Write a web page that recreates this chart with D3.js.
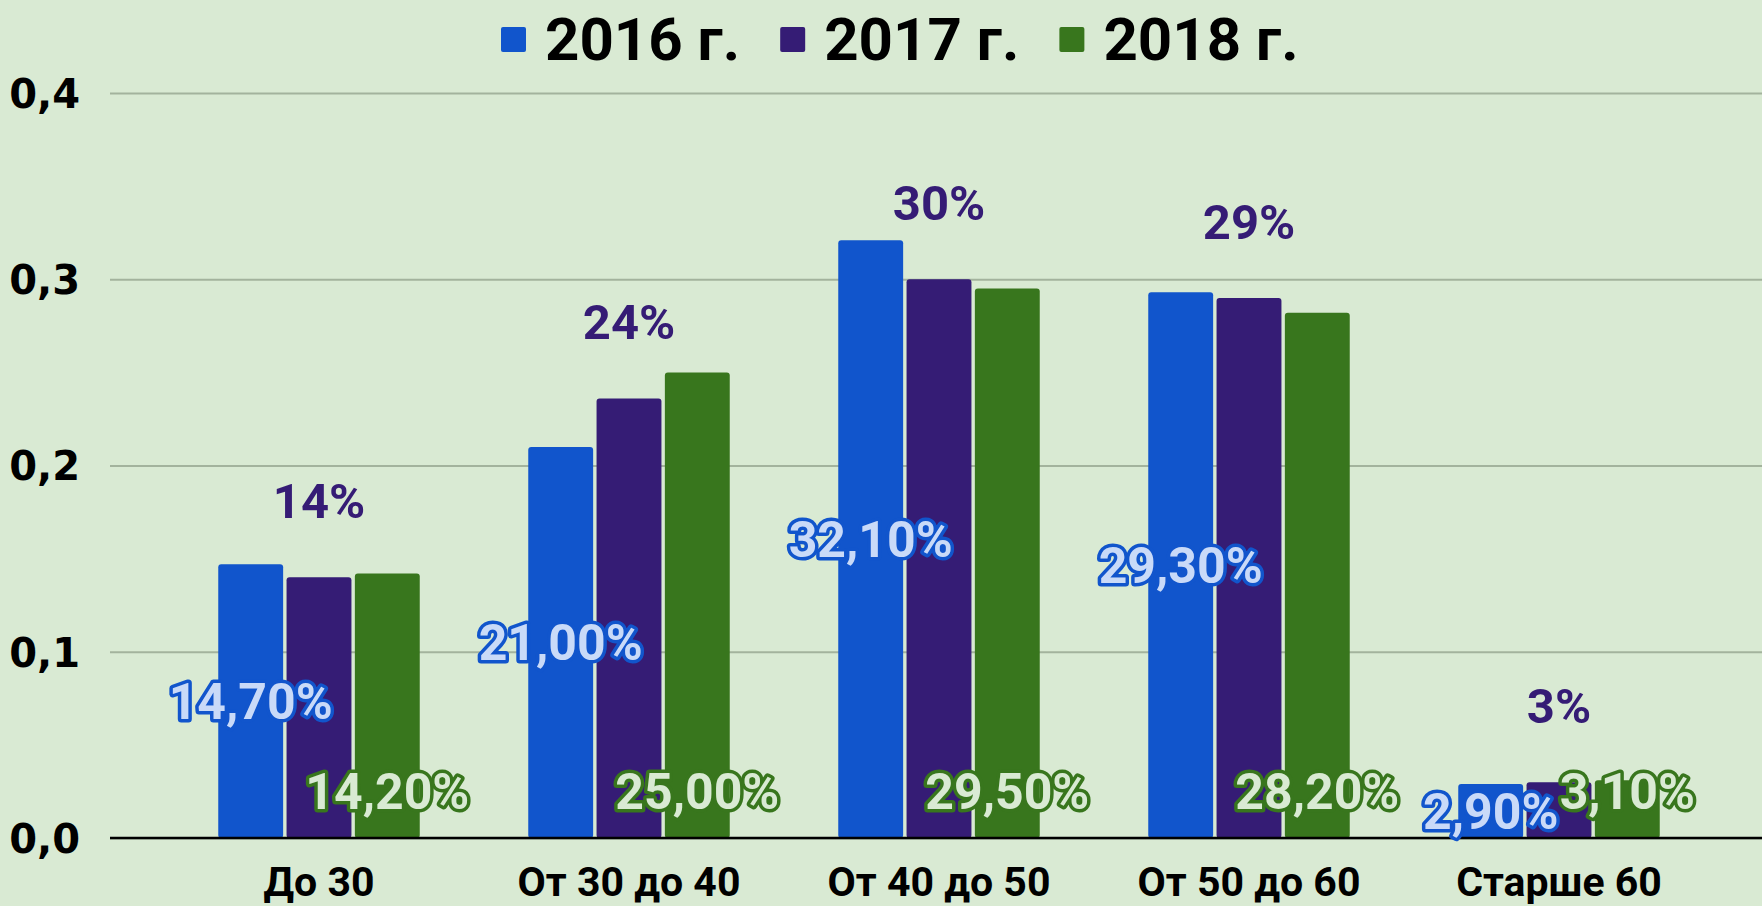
<!DOCTYPE html>
<html>
<head>
<meta charset="utf-8">
<script src="https://cdn.jsdelivr.net/npm/d3@7"></script>
<style>
  html, body { margin: 0; padding: 0; background: #d9ead3; }
  svg { display: block; }
  .tick line { stroke: #a3b39d; stroke-width: 2; }
  .tick text { font-family: "DejaVu Sans", sans-serif; font-weight: bold; font-size: 40px; fill: #000; }
  .cat { font-family: Roboto, sans-serif; font-weight: bold; font-size: 41px; fill: #000; text-anchor: middle; }
  .legend text { font-family: Roboto, sans-serif; font-weight: bold; font-size: 60px; fill: #000; }
  .lbl { font-family: Roboto, sans-serif; font-weight: bold; font-size: 50px; text-anchor: middle; paint-order: stroke; stroke-linejoin: round; }
  .lbl17 { font-family: Roboto, sans-serif; font-weight: bold; font-size: 49px; text-anchor: middle; fill: #351c75; }
</style>
</head>
<body>
<div id="chart"></div>
<script>
// data
const categories = ["До 30", "От 30 до 40", "От 40 до 50", "От 50 до 60", "Старше 60"];
const seriesNames = ["2016 г.", "2017 г.", "2018 г."];
const values2016 = [0.147, 0.21, 0.321, 0.293, 0.029];
const values2017 = [0.14, 0.236, 0.30, 0.29, 0.03];
const values2018 = [0.142, 0.25, 0.295, 0.282, 0.031];
const yTicks = [0, 0.1, 0.2, 0.3, 0.4];

const colors = ["#1155cc", "#351c75", "#38761d"];
const labelFill = ["#c9daf8", "#351c75", "#d9ead3"];

// Step 1: set up
//=========================
const svgWidth = 1762;
const svgHeight = 906;

const locale = d3.formatLocale({ decimal: ",", thousands: " ", grouping: [3], currency: ["", ""] });
const fmtTick = locale.format(".1f");
const fmtPct2 = locale.format(".2%");
const fmtPct0 = locale.format(".0%");

const svg = d3.select("#chart")
  .append("svg")
  .attr("width", svgWidth)
  .attr("height", svgHeight);

svg.append("rect")
  .attr("width", svgWidth)
  .attr("height", svgHeight)
  .attr("fill", "#d9ead3");

// Step 2: scales
//=========================
const gridLeft = 110;
const gridRight = 1762;

const y = d3.scaleLinear()
  .domain([0, 0.4])
  .range([838, 93]);

const x0 = d3.scaleBand()
  .domain(categories)
  .range([164, 1714])
  .paddingInner(0.35)
  .paddingOuter(0.175);

const x1 = d3.scaleBand()
  .domain(seriesNames)
  .range([0, x0.bandwidth()])
  .paddingInner(0.05);

// Step 3: axes / gridlines
//=========================
const yAxis = svg.append("g")
  .attr("transform", `translate(${gridLeft}, 0)`)
  .call(d3.axisLeft(y)
    .tickValues(yTicks)
    .tickFormat(fmtTick)
    .tickSize(-(gridRight - gridLeft))
    .tickPadding(30));
yAxis.select(".domain").remove();
yAxis.selectAll(".tick text").attr("dy", "0.36em");

// Step 4: bars
//=========================
const seriesData = [values2016, values2017, values2018];

const groups = svg.selectAll(".series")
  .data(seriesData)
  .enter()
  .append("g")
  .attr("class", "series")
  .attr("fill", (d, i) => colors[i]);

groups.each(function (vals, si) {
  d3.select(this)
    .selectAll("rect")
    .data(vals)
    .enter()
    .append("rect")
    .attr("x", (d, ci) => x0(categories[ci]) + x1(seriesNames[si]))
    .attr("y", d => y(d))
    .attr("width", x1.bandwidth())
    .attr("height", d => y(0) - y(d))
    .attr("rx", 3);
});

// baseline on top of bars
svg.append("line")
  .attr("x1", gridLeft)
  .attr("x2", gridRight)
  .attr("y1", y(0))
  .attr("y2", y(0))
  .attr("stroke", "#000")
  .attr("stroke-width", 2.5);

// Step 5: labels
//=========================
const barCenter = (ci, si) => x0(categories[ci]) + x1(seriesNames[si]) + x1.bandwidth() / 2;

// 2016 - middle of the bar
svg.selectAll(".lbl16")
  .data(values2016)
  .enter()
  .append("text")
  .attr("class", "lbl")
  .attr("x", (d, i) => barCenter(i, 0))
  .attr("y", d => (y(d) + y(0)) / 2)
  .attr("dy", "0.36em")
  .attr("fill", labelFill[0])
  .attr("stroke", colors[0])
  .attr("stroke-width", 7)
  .text(d => fmtPct2(d));

// 2017 - above the bar
svg.selectAll(".lbl17")
  .data(values2017)
  .enter()
  .append("text")
  .attr("class", "lbl17")
  .attr("x", (d, i) => barCenter(i, 1))
  .attr("y", d => y(d) - 77)
  .attr("dy", "0.36em")
  .text(d => fmtPct0(d));

// 2018 - inside base
svg.selectAll(".lbl18")
  .data(values2018)
  .enter()
  .append("text")
  .attr("class", "lbl")
  .attr("x", (d, i) => barCenter(i, 2))
  .attr("y", y(0) - 47)
  .attr("dy", "0.36em")
  .attr("fill", labelFill[2])
  .attr("stroke", colors[2])
  .attr("stroke-width", 7)
  .text(d => fmtPct2(d));

// category labels
svg.selectAll(".cat")
  .data(categories)
  .enter()
  .append("text")
  .attr("class", "cat")
  .attr("x", d => x0(d) + x0.bandwidth() / 2)
  .attr("y", 896)
  .text(d => d);

// Step 6: legend
//=========================
const legend = svg.append("g")
  .attr("class", "legend")
  .attr("transform", "translate(501, 60)");
const sq = 25;
let cursor = 0;
seriesNames.forEach((name, i) => {
  const item = legend.append("g").attr("transform", `translate(${cursor}, 0)`);
  item.append("rect")
    .attr("x", 0)
    .attr("y", -33)
    .attr("width", sq)
    .attr("height", sq)
    .attr("rx", 2)
    .attr("fill", colors[i]);
  const t = item.append("text")
    .attr("x", sq + 19)
    .attr("y", 0)
    .text(name);
  cursor += sq + 19 + t.node().getComputedTextLength() + 40;
});
</script>
</body>
</html>
